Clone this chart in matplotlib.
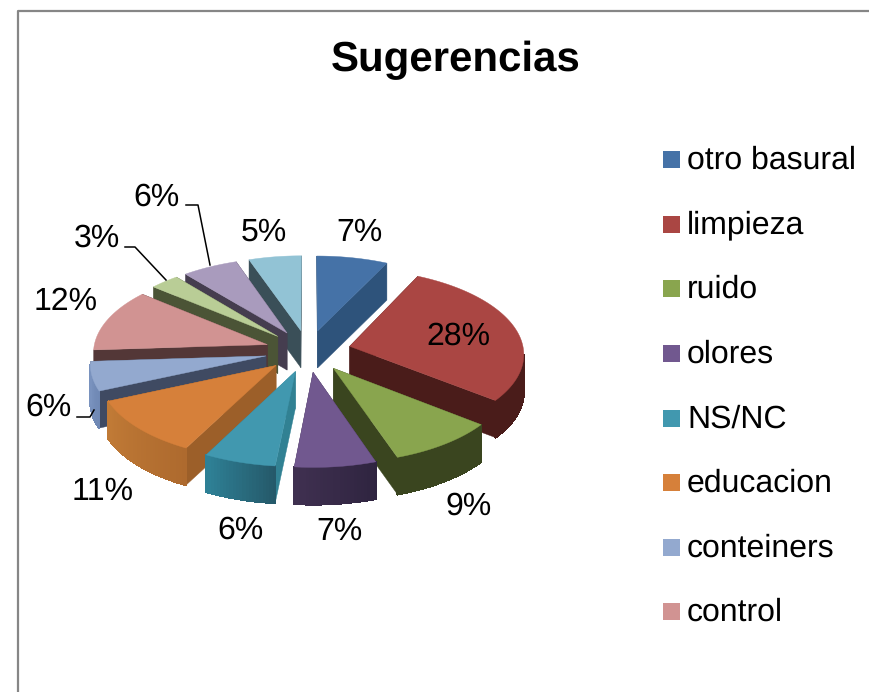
# 三维分离饼图 Sugerencias
import numpy as np
import matplotlib
matplotlib.use('Agg')
import matplotlib.pyplot as plt
from matplotlib.patches import Polygon, Rectangle
from matplotlib.colors import to_rgb

plt.rcParams['font.family'] = ['Liberation Sans', 'DejaVu Sans']
plt.rcParams['text.hinting'] = 'no_hinting'
plt.rcParams['text.hinting_factor'] = 1

title = 'Sugerencias'
values = [7.3, 28.2, 9.2, 6.9, 6.1, 10.8, 5.5, 11.9, 3.0, 5.7, 5.4]
pct_labels = ['7%', '28%', '9%', '7%', '6%', '11%', '6%', '12%', '3%', '6%', '5%']
legend_labels = ['otro basural', 'limpieza', 'ruido', 'olores', 'NS/NC',
                 'educacion', 'conteiners', 'control']

top_colors = ['#4572A7', '#AA4643', '#89A54E', '#71588F', '#4198AF', '#D6803A',
              '#93A9CF', '#D19392', '#B9CD96', '#A99BBD', '#92C3D5']
side_colors = ['#2E537B', '#4A1C1A', '#3A451F', '#3A2C4C', '#318193', '#9C5F29',
               '#3F4A62', '#533737', '#4B5436', '#453D4F', '#3A4F58']
rim_start = ['#2E537B', '#4A1C1A', '#3A451F', '#3F3050', '#2E8095', '#C07A36',
             '#7A93BF', '#533737', '#4B5436', '#453D4F', '#3A4F58']
rim_end = ['#2E537B', '#4A1C1A', '#3A451F', '#2F2440', '#25596A', '#AE6A2E',
           '#6F88B4', '#533737', '#4B5436', '#453D4F', '#3A4F58']

# 标签位置, 像素坐标 (中心)
label_pos = [(359, 232), (458, 335), (469, 505), (339, 531), (241, 529), (103, 491),
             (49, 406), (66, 301), (97, 237), (157, 196), (264, 231)]
leader_lines = [[(186, 205), (198, 205), (210, 265)],
                [(125, 247), (135, 247), (166, 280)],
                [(77, 417), (90, 417), (94, 410)]]
legend_y = [159, 224, 288, 353, 418, 482, 547, 611]

# 投影参数
cx, cy = 308, 351
rx, ry = 174, 85
persp = 0.08
explode = 0.247
depth = 37


def project(X, Y, down=0.0):
    s = 1 + persp * Y
    return cx + rx * X * s, cy + ry * Y * s + depth * down


def area(pts):
    p = np.array(pts)
    x, y = p[:, 0], p[:, 1]
    return 0.5 * np.sum(x * np.roll(y, -1) - np.roll(x, -1) * y)


def mix(c1, c2, t):
    a, b = np.array(to_rgb(c1)), np.array(to_rgb(c2))
    return tuple(a + (b - a) * t)


fig = plt.figure(figsize=(8.7, 6.92), dpi=100)
ax = fig.add_axes([0, 0, 1, 1])
ax.set_xlim(0, 870)
ax.set_ylim(692, 0)
ax.axis('off')

# 外框
ax.plot([18, 18, 870], [692, 10.5, 10.5], color='#868686', lw=1.6, solid_capstyle='butt')

cum = np.cumsum([0] + values) / np.sum(values) * 2 * np.pi
mids = (cum[:-1] + cum[1:]) / 2
order = list(np.argsort(-np.cos(mids)))  # 从后往前画

for i in order:
    z = 3 * order.index(i)
    th = np.linspace(cum[i], cum[i + 1], max(int(np.degrees(cum[i + 1] - cum[i])), 2) + 1)
    ox, oy = explode * np.sin(mids[i]), -explode * np.cos(mids[i])
    X = ox + np.sin(th)
    Y = oy - np.cos(th)
    apex = project(ox, oy)
    apex_d = project(ox, oy, 1)
    top = [project(a, b) for a, b in zip(X, Y)]
    bot = [project(a, b, 1) for a, b in zip(X, Y)]

    # 两个径向面
    for wall in ([apex, top[0], bot[0], apex_d], [apex, top[-1], bot[-1], apex_d]):
        ax.add_patch(Polygon(wall, closed=True, fc=side_colors[i], ec=side_colors[i], lw=0.3, zorder=1 + z))
    # 外侧弧面, 渐变, 背面不画; 四边形不抗锯齿, 不然有条纹
    n = len(th) - 1
    for k in range(n):
        quad = [top[k], top[k + 1], bot[k + 1], bot[k]]
        if area(quad) >= 0:
            continue
        c = mix(rim_end[i], rim_start[i], k / max(n - 1, 1))
        ax.add_patch(Polygon(quad, closed=True, fc=c, ec=c, lw=1.0, antialiased=False, zorder=2 + z))
    ax.add_patch(Polygon([apex] + top, closed=True, fc=top_colors[i], ec=top_colors[i], lw=0.3, zorder=3 + z))

for line in leader_lines:
    ax.plot([p[0] for p in line], [p[1] for p in line], color='black', lw=1.1, zorder=60)

for lab, (x, y) in zip(pct_labels, label_pos):
    ax.text(x, y + 1, lab, fontsize=22.7, ha='center', va='center', color='black', zorder=61)

ax.text(455.5, 60, title, fontsize=30.5, fontweight='bold', ha='center', va='center')

for lab, y, c in zip(legend_labels, legend_y, top_colors):
    ax.add_patch(Rectangle((663, y - 8.5), 17, 17, fc=c, ec='none'))
    ax.text(687, y + 1, lab, fontsize=22.7, ha='left', va='center')

fig.savefig('out.png', dpi=100)
